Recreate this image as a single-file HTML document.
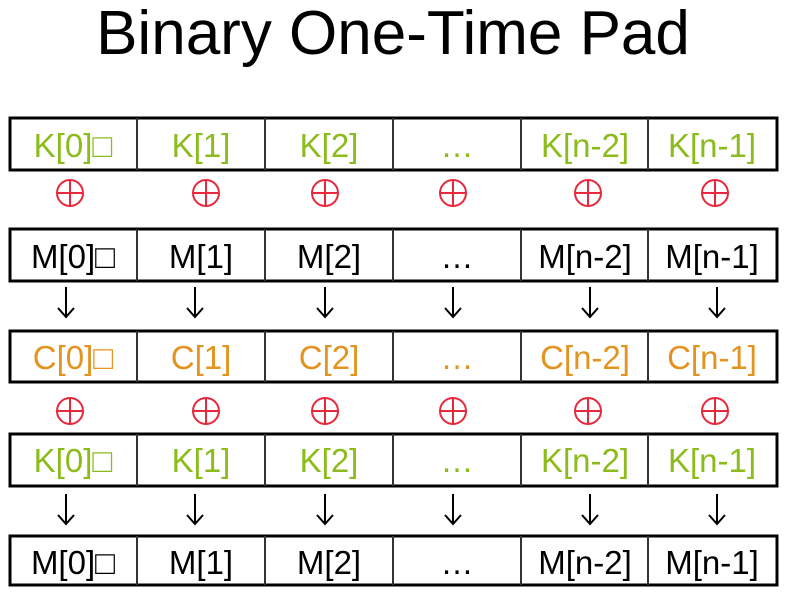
<!DOCTYPE html>
<html><head><meta charset="utf-8"><style>
html,body{margin:0;padding:0;background:#fff;}
svg{display:block;font-family:"Liberation Sans","DejaVu Sans",sans-serif;}
</style></head><body>
<svg width="788" height="595" viewBox="0 0 788 595" xmlns="http://www.w3.org/2000/svg">
<text x="393" y="54" font-size="62" text-anchor="middle" fill="#000">Binary One-Time Pad</text>
<g>
<rect x="10" y="118" width="767" height="52" fill="none" stroke="#000" stroke-width="3"/>
<g stroke="#333" stroke-width="2"><line x1="137" y1="118" x2="137" y2="170"/><line x1="265" y1="118" x2="265" y2="170"/><line x1="393" y1="118" x2="393" y2="170"/><line x1="521" y1="118" x2="521" y2="170"/><line x1="648" y1="118" x2="648" y2="170"/></g>
<g font-size="33" text-anchor="middle" fill="#8cbc1c"><text x="73" y="157">K[0]□</text><text x="201" y="157">K[1]</text><text x="329" y="157">K[2]</text><text x="457" y="157">…</text><text x="585" y="157">K[n-2]</text><text x="712" y="157">K[n-1]</text></g>
</g>
<g>
<rect x="10" y="229" width="767" height="52" fill="none" stroke="#000" stroke-width="3"/>
<g stroke="#333" stroke-width="2"><line x1="137" y1="229" x2="137" y2="281"/><line x1="265" y1="229" x2="265" y2="281"/><line x1="393" y1="229" x2="393" y2="281"/><line x1="521" y1="229" x2="521" y2="281"/><line x1="648" y1="229" x2="648" y2="281"/></g>
<g font-size="33" text-anchor="middle" fill="#000"><text x="73" y="268">M[0]□</text><text x="201" y="268">M[1]</text><text x="329" y="268">M[2]</text><text x="457" y="268">…</text><text x="585" y="268">M[n-2]</text><text x="712" y="268">M[n-1]</text></g>
</g>
<g>
<rect x="10" y="331" width="767" height="51" fill="none" stroke="#000" stroke-width="3"/>
<g stroke="#333" stroke-width="2"><line x1="137" y1="331" x2="137" y2="382"/><line x1="265" y1="331" x2="265" y2="382"/><line x1="393" y1="331" x2="393" y2="382"/><line x1="521" y1="331" x2="521" y2="382"/><line x1="648" y1="331" x2="648" y2="382"/></g>
<g font-size="33" text-anchor="middle" fill="#e3931f"><text x="73" y="369">C[0]□</text><text x="201" y="369">C[1]</text><text x="329" y="369">C[2]</text><text x="457" y="369">…</text><text x="585" y="369">C[n-2]</text><text x="712" y="369">C[n-1]</text></g>
</g>
<g>
<rect x="10" y="434" width="767" height="52" fill="none" stroke="#000" stroke-width="3"/>
<g stroke="#333" stroke-width="2"><line x1="137" y1="434" x2="137" y2="486"/><line x1="265" y1="434" x2="265" y2="486"/><line x1="393" y1="434" x2="393" y2="486"/><line x1="521" y1="434" x2="521" y2="486"/><line x1="648" y1="434" x2="648" y2="486"/></g>
<g font-size="33" text-anchor="middle" fill="#8cbc1c"><text x="73" y="472">K[0]□</text><text x="201" y="472">K[1]</text><text x="329" y="472">K[2]</text><text x="457" y="472">…</text><text x="585" y="472">K[n-2]</text><text x="712" y="472">K[n-1]</text></g>
</g>
<g>
<rect x="10" y="536" width="767" height="49" fill="none" stroke="#000" stroke-width="3"/>
<g stroke="#333" stroke-width="2"><line x1="137" y1="536" x2="137" y2="585"/><line x1="265" y1="536" x2="265" y2="585"/><line x1="393" y1="536" x2="393" y2="585"/><line x1="521" y1="536" x2="521" y2="585"/><line x1="648" y1="536" x2="648" y2="585"/></g>
<g font-size="33" text-anchor="middle" fill="#000"><text x="73" y="574">M[0]□</text><text x="201" y="574">M[1]</text><text x="329" y="574">M[2]</text><text x="457" y="574">…</text><text x="585" y="574">M[n-2]</text><text x="712" y="574">M[n-1]</text></g>
</g>
<g fill="none" stroke="#e8283c" stroke-width="2">
<g>
<circle cx="70" cy="193" r="13"/><path d="M57 193H83M70 180V206"/>
<circle cx="206" cy="193" r="13"/><path d="M193 193H219M206 180V206"/>
<circle cx="325" cy="193" r="13"/><path d="M312 193H338M325 180V206"/>
<circle cx="453" cy="193" r="13"/><path d="M440 193H466M453 180V206"/>
<circle cx="588" cy="193" r="13"/><path d="M575 193H601M588 180V206"/>
<circle cx="715" cy="193" r="13"/><path d="M702 193H728M715 180V206"/>
</g>
<g transform="translate(0,218)">
<circle cx="70" cy="193" r="13"/><path d="M57 193H83M70 180V206"/>
<circle cx="206" cy="193" r="13"/><path d="M193 193H219M206 180V206"/>
<circle cx="325" cy="193" r="13"/><path d="M312 193H338M325 180V206"/>
<circle cx="453" cy="193" r="13"/><path d="M440 193H466M453 180V206"/>
<circle cx="588" cy="193" r="13"/><path d="M575 193H601M588 180V206"/>
<circle cx="715" cy="193" r="13"/><path d="M702 193H728M715 180V206"/>
</g>
</g>
<g fill="none" stroke="#000" stroke-width="2">
<g>
<path d="M66 287V317M58 308L66 317L74 308"/>
<path d="M195 287V317M187 308L195 317L203 308"/>
<path d="M325 287V317M317 308L325 317L333 308"/>
<path d="M453 287V317M445 308L453 317L461 308"/>
<path d="M590 287V317M582 308L590 317L598 308"/>
<path d="M717 287V317M709 308L717 317L725 308"/>
</g>
<g transform="translate(0,207)">
<path d="M66 287V317M58 308L66 317L74 308"/>
<path d="M195 287V317M187 308L195 317L203 308"/>
<path d="M325 287V317M317 308L325 317L333 308"/>
<path d="M453 287V317M445 308L453 317L461 308"/>
<path d="M590 287V317M582 308L590 317L598 308"/>
<path d="M717 287V317M709 308L717 317L725 308"/>
</g>
</g>
</svg>
</body></html>
